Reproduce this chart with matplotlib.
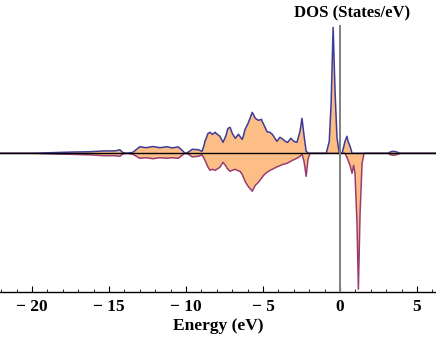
import numpy as np
import matplotlib
matplotlib.use("Agg")
import matplotlib.pyplot as plt
from matplotlib.ticker import MultipleLocator, FuncFormatter

# energy grid (eV) and spin-resolved DOS (states/eV)
energy = np.array([
    -22.1, -20.1, -18.8, -17.5, -16.2, -15.3, -14.6, -14.3, -14.1, -13.8,
    -13.45, -13.0, -12.6, -12.15, -11.7, -11.25, -10.9, -10.5, -10.26, -10.06,
    -9.87, -9.6, -9.2, -8.96, -8.83, -8.77, -8.57, -8.44, -8.3, -8.1,
    -8.05, -7.8, -7.6, -7.4, -7.34, -7.27, -7.14, -7.0, -6.8, -6.6,
    -6.5, -6.36, -6.3, -6.17, -5.97, -5.7, -5.5, -5.3, -5.1, -5.06,
    -4.9, -4.74, -4.55, -4.4, -4.35, -4.1, -4.0, -3.9, -3.7, -3.64,
    -3.44, -3.4, -3.2, -3.1, -3.0, -2.8, -2.6, -2.47, -2.34, -2.2,
    -2.08, -1.95, -1.6, -0.9, -0.7, -0.58, -0.45, -0.32, -0.2, -0.06,
    0.13, 0.26, 0.32, 0.45, 0.52, 0.65, 0.78, 0.88, 0.97, 1.1,
    1.19, 1.3, 1.43, 1.56, 3.12, 3.3, 3.5, 3.7, 3.9, 6.3,
])
dos_up = np.array([
    0.0, 0.0, 0.03, 0.06, 0.08, 0.12, 0.12, 0.18, 0.03, 0.0,
    0.05, 0.33, 0.28, 0.34, 0.28, 0.33, 0.27, 0.32, 0.15, 0.0,
    0.05, 0.2, 0.18, 0.1, 0.4, 0.6, 1.0, 1.05, 0.95, 1.05,
    1.0, 0.85, 0.55, 0.9, 1.1, 1.25, 1.3, 1.0, 0.75, 0.95,
    0.85, 0.7, 0.8, 1.2, 1.5, 2.05, 1.75, 1.65, 1.7, 1.6,
    1.35, 1.08, 1.05, 0.95, 0.9, 0.6, 0.7, 0.8, 0.7, 0.65,
    0.55, 0.55, 0.75, 0.68, 0.6, 0.55, 1.1, 1.75, 0.9, 0.1,
    0.02, 0.0, 0.0, 0.0, 0.6, 2.5, 6.3, 3.0, 0.8, 0.05,
    0.0, 0.4, 0.6, 0.85, 0.6, 0.35, 0.0, 0.0, 0.0, 0.0,
    0.0, 0.0, 0.0, 0.0, 0.0, 0.08, 0.1, 0.06, 0.0, 0.0,
])
dos_down = -np.array([
    0.0, 0.0, 0.03, 0.05, 0.08, 0.12, 0.12, 0.15, 0.03, 0.0,
    0.05, 0.25, 0.22, 0.27, 0.22, 0.25, 0.22, 0.25, 0.1, 0.0,
    0.03, 0.18, 0.15, 0.08, 0.25, 0.35, 0.7, 0.85, 0.8, 0.85,
    0.82, 0.7, 0.45, 0.65, 0.75, 0.8, 0.9, 0.85, 0.8, 0.88,
    0.9, 1.05, 1.15, 1.4, 1.65, 1.9, 1.6, 1.45, 1.25, 1.2,
    1.05, 0.95, 0.85, 0.8, 0.78, 0.68, 0.65, 0.62, 0.55, 0.54,
    0.5, 0.48, 0.4, 0.35, 0.32, 0.25, 0.15, 0.05, 0.4, 1.15,
    0.3, 0.0, 0.0, 0.0, 0.0, 0.0, 0.0, 0.0, 0.0, 0.0,
    0.0, 0.0, 0.0, 0.2, 0.35, 0.6, 1.0, 0.6, 1.0, 3.5,
    6.8, 3.0, 0.5, 0.0, 0.0, 0.08, 0.1, 0.06, 0.0, 0.0,
])

x_ticks = [-20, -15, -10, -5, 0, 5]

plt.rcParams['font.family'] = ['Liberation Serif', 'DejaVu Serif']
plt.rcParams['font.weight'] = 'bold'

fig = plt.figure(figsize=(4.36, 3.39), dpi=100)
ax = fig.add_axes([0.0, 47 / 339, 1.0, 267 / 339])

fill_col = '#FCBE84'
ax.fill_between(energy, dos_up, 0, color=fill_col, lw=0)
ax.fill_between(energy, dos_down, 0, color=fill_col, lw=0)
ax.plot(energy, dos_up, color='#3D3D99', lw=1.1)
ax.plot(energy, dos_down, color='#993D70', lw=1.1)

ax.axhline(0, color='black', lw=1.0, zorder=3)
ax.axvline(0, color='#808080', lw=1.4, zorder=3)

ax.set_xlim(-22.08, 6.23)
ax.set_ylim(-6.94, 6.42)

for s in ['top', 'left', 'right']:
    ax.spines[s].set_visible(False)
ax.spines['bottom'].set_linewidth(1.0)
ax.set_yticks([])

ax.set_xticks(x_ticks)
ax.xaxis.set_minor_locator(MultipleLocator(1))
ax.xaxis.set_major_formatter(FuncFormatter(
    lambda v, p: f"\u2212 {abs(int(v))}" if v < 0 else f"{int(v)}"))
ax.tick_params(axis='x', which='major', direction='in', length=4, width=0.8,
               labelsize=12.5, pad=5)
ax.tick_params(axis='x', which='minor', direction='in', length=2, width=0.6)

ax.set_xlabel('Energy (eV)', fontsize=12.5, fontweight='bold', labelpad=2)
fig.text(352 / 436, 1 - 13 / 339, 'DOS (States/eV)', ha='center', va='center',
         fontsize=12, fontweight='bold')

fig.savefig('out.png', dpi=100)
